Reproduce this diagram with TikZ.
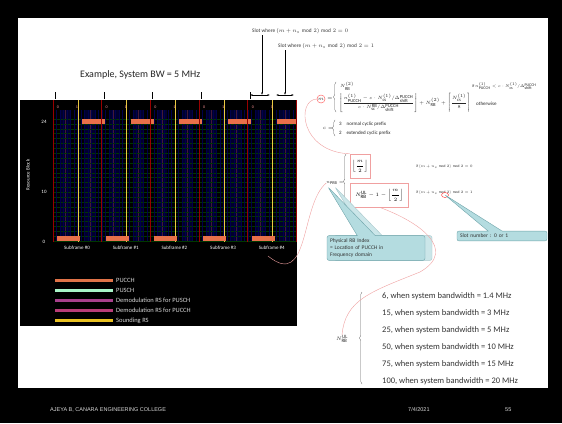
\documentclass[tikz,border=0pt]{standalone}
\usepackage{amsmath}
\usepackage{fontspec}
\setmainfont{Carlito}
\newfontfamily\footfont{Liberation Sans}
\usetikzlibrary{positioning,arrows.meta,calc,shapes.callouts,shadows,decorations.pathreplacing}
\tikzset{>={Latex[scale=0.5]}}

\definecolor{pucchred}{HTML}{E8704A}
\definecolor{puschgreen}{HTML}{A8F5C8}
\definecolor{dmrspusch}{HTML}{A8408C}
\definecolor{dmrspucch}{HTML}{B83C78}
\definecolor{srsyellow}{HTML}{E8C020}
\definecolor{calloutfill}{HTML}{B4DCE0}
\definecolor{calloutdraw}{HTML}{6FA4AA}
\definecolor{linkpink}{HTML}{F0A0A0}

% shrink a formula to the slide's size
\newcommand{\shr}[2][0.8]{\scalebox{#1}{#2}}

\begin{document}
\begin{tikzpicture}[x=1pt,y=-1pt,
  txt/.style={inner sep=0pt, text=black!80, font=\fontsize{6}{7}\selectfont},
  small/.style={inner sep=0pt, text=black!85, font=\fontsize{5}{6}\selectfont},
  chartlbl/.style={inner sep=0pt, text=white, font=\fontsize{5}{6}\selectfont},
  pinkbox/.style={draw=linkpink, inner sep=1.5pt, font=\fontsize{5}{6}\selectfont},
  link/.style={draw=linkpink, thin},
  callout/.style={rectangle callout, rounded corners=2pt, fill=calloutfill, draw=calloutdraw,
    text=black!80, font=\fontsize{5.5}{7}\selectfont, align=left, inner sep=3pt},
  legendbar/.style={line width=3pt},
  brc/.style={decorate, decoration={brace, amplitude=2.5pt}, draw=black!60}]

% slide frame
\fill[black] (0,0) rectangle (562,423);
\fill[white] (18,18) rectangle (548,388);
\useasboundingbox (0,0) rectangle (562,423);

% footer
\node[inner sep=0pt, anchor=west, text=black!15, font=\footfont\fontsize{5.5}{6}\selectfont] (college) at (50,410) {AJEYA B, CANARA ENGINEERING COLLEGE};
\node[inner sep=0pt, anchor=west, text=black!15, font=\footfont\fontsize{5.5}{6}\selectfont] (date) at (408,410) {7/4/2021};
\node[inner sep=0pt, anchor=west, text=black!15, font=\footfont\fontsize{5.5}{6}\selectfont] (pagenum) at (505,410) {55};

% title
\node[inner sep=0pt, anchor=west, text=black!85, font=\fontsize{10}{12}\selectfont] (title) at (80,75) {Example, System BW = 5 MHz};

% resource grid
\fill[black] (20,100) rectangle (297,326);
\foreach \s in {0,...,4} {
  \pgfmathsetmacro\xs{53+48.7*\s}
  % DMRS symbols in each slot
  \fill[blue!18!black] (\xs+7,110) rectangle (\xs+17,241);
  \fill[blue!18!black] (\xs+32,110) rectangle (\xs+42,241);
  \draw[dmrspusch!40!black, line width=0.6pt] (\xs+12,110) -- (\xs+12,241);
  \draw[dmrspusch!40!black, line width=0.6pt] (\xs+37,110) -- (\xs+37,241);
}
\foreach \r in {0,...,25}
  \draw[green!22!black, line width=0.3pt] (53,{241-4.88*\r}) -- (297,{241-4.88*\r});
\foreach \c in {0,...,70}
  \draw[blue!30!black, line width=0.3pt] ({53+3.48*\c},110) -- ({53+3.48*\c},241);
\foreach \s in {0,...,4} {
  \pgfmathsetmacro\xs{53+48.7*\s}
  \draw[red!60!black, line width=0.7pt] (\xs,100) -- (\xs,242);
  \draw[srsyellow!85!white, line width=0.7pt] (\xs+25,100) -- (\xs+25,242);
  % PUCCH: slot 0 at the lower edge, slot 1 at the upper edge
  \fill[pucchred] (\xs+4,236) rectangle (\xs+27,241);
  \fill[pucchred] ({\xs+29},119) rectangle ({min(\xs+52,297)},124);
  \node[inner sep=0pt, text=red!40!white, font=\fontsize{4}{5}\selectfont] at (\xs+5,107) {0};
  \node[inner sep=0pt, text=red!40!white, font=\fontsize{4}{5}\selectfont] at (\xs+24,107) {1};
  \node[chartlbl] (sf\s) at (\xs+24,248) {Subframe \#\s};
  \draw[black] (\xs+2,92) -- (\xs+2,99);
}
\draw[red!60!black, line width=0.7pt] (296.5,100) -- (296.5,242);
\node[chartlbl] (tick24) at (44,122) {24};
\node[chartlbl] (tick10) at (44,192) {10};
\node[chartlbl] (tick0) at (44,242) {0};
\node[chartlbl, rotate=90] (rblabel) at (28,175) {Resource Block};

% legend
\foreach \col/\name [count=\i from 0] in {pucchred!80!brown/PUCCH, puschgreen/PUSCH,
    dmrspusch/Demodulation RS for PUSCH, dmrspucch/Demodulation RS for PUCCH, srsyellow/Sounding RS} {
  \draw[legendbar, \col] (55,{280+10.2*\i}) -- (113,{280+10.2*\i});
  \node[chartlbl, anchor=west, text=white!85!black, font=\fontsize{6.5}{7}\selectfont] (leg\i) at (116,{280+10.2*\i}) {\name};
}

% slot markers above the last subframe
\coordinate (slotA) at (262,95);
\coordinate (slotB) at (285,95);
\draw[<->, black] (250,95) -- (270,95);
\draw[<->, black] (276,95) -- (294,95);
\node[txt, anchor=west] (slotzero) at (252,31) {\shr[0.88]{Slot where $(m+n_s \bmod 2)\bmod 2=0$}};
\node[txt, anchor=west] (slotone) at (278,46) {\shr[0.88]{Slot where $(m+n_s \bmod 2)\bmod 2=1$}};
\draw[->, black] (262,35) -- (slotA);
\draw[->, black] (285,50) -- (slotB);

% m for PUCCH format 1
\node[draw=red!70, circle, inner sep=0.6pt, text=black!80, font=\fontsize{5}{6}\selectfont] (mc) at (321,99) {$m$};
\node[small] (meq) at (330,99) {$=$};
\draw[brc] (336,112) -- (336,82);
\node[small, anchor=west] (mrow1) at (340,86) {\shr[0.9]{$N^{(2)}_{\mathrm{RB}}$}};
\node[small, anchor=west] (mrow2) at (339,103) {\shr[0.92]{$\left\lfloor\dfrac{n^{(1)}_{\mathrm{PUCCH}}-c\cdot N^{(1)}_{\mathrm{cs}}/\Delta^{\mathrm{PUCCH}}_{\mathrm{shift}}}{c\cdot N^{\mathrm{RB}}_{\mathrm{sc}}/\Delta^{\mathrm{PUCCH}}_{\mathrm{shift}}}\right\rfloor+N^{(2)}_{\mathrm{RB}}+\left\lceil\dfrac{N^{(1)}_{\mathrm{cs}}}{8}\right\rceil$}};
\node[small, anchor=west] (mcond1) at (472,86) {\shr[0.8]{if $n^{(1)}_{\mathrm{PUCCH}}<c\cdot N^{(1)}_{\mathrm{cs}}/\Delta^{\mathrm{PUCCH}}_{\mathrm{shift}}$}};
\node[small, anchor=west] (mcond2) at (476,104) {otherwise};

% c for the cyclic prefix
\node[small] (ceq) at (328,128) {$c=$};
\draw[brc] (335,136) -- (335,120);
\node[small, anchor=west] (cnormal) at (339,124) {3\quad normal cyclic prefix};
\node[small, anchor=west] (cext) at (339,133) {2\quad extended cyclic prefix};

% n_PRB
\node[small] (nprb) at (335,183) {\shr[0.85]{$n_{\mathrm{PRB}}=$}};
\draw[brc] (346,209) -- (346,154);
\node[pinkbox, minimum width=20pt, minimum height=24pt] (box1) at (360,166) {$\left\lfloor\dfrac{m}{2}\right\rfloor$};
\node[pinkbox, anchor=west, minimum width=58pt, minimum height=24pt] (box2) at (350,195) {$N^{\mathrm{UL}}_{\mathrm{RB}}-1-\left\lfloor\dfrac{m}{2}\right\rfloor$};
\node[small, anchor=west] (pcond1) at (416,167) {\shr[0.72]{if $(m+n_s \bmod 2)\bmod 2=0$}};
\node[small, anchor=west] (pcond2) at (416,193) {\shr[0.72]{if $(m+n_s \bmod 2)\bmod 2=1$}};
\coordinate (ns) at (445,195);
\draw[red!70, line width=0.5pt] (ns) ellipse (3.5pt and 2.5pt);

% callouts
\node[callout, copy shadow={shadow xshift=7pt, shadow yshift=0pt, fill=calloutfill!70, draw=calloutdraw!60},
  callout absolute pointer={(328,187)}, callout pointer width=18pt, text width=92pt] (rbnote) at (376,248)
  {Physical RB Index\\= Location of PUCCH in\\Frequency domain};
\node[callout, callout absolute pointer={(ns)}, callout pointer width=14pt, text width=84pt] (slotnote) at (502,236)
  {Slot number : 0 or 1};

% N_RB^UL
\node[small] (nrbul) at (342,339) {$N^{\mathrm{UL}}_{\mathrm{RB}}$};
\draw[brc] (362,384) -- (362,292);
\foreach \nrb/\bw [count=\i from 0] in {6/1.4, 15/3, 25/5, 50/10, 75/15, 100/20}
  \node[inner sep=0pt, anchor=west, text=black!80, font=\fontsize{8.5}{9}\selectfont] (bw\i) at (382,{296+17.1*\i}) {\nrb, when system bandwidth = \bw\ MHz};

% links between the formulas and the grid
\draw[link] (mc.west) .. controls (296,100) and (300,152) .. (box1.north west);
\draw[link] (nprb.west) .. controls (300,205) and (310,290) .. (268,256);
\draw[link] (box2.south) .. controls (420,222) and (458,250) .. (420,272)
  .. controls (370,292) and (345,300) .. (nrbul.north);
\end{tikzpicture}
\end{document}
